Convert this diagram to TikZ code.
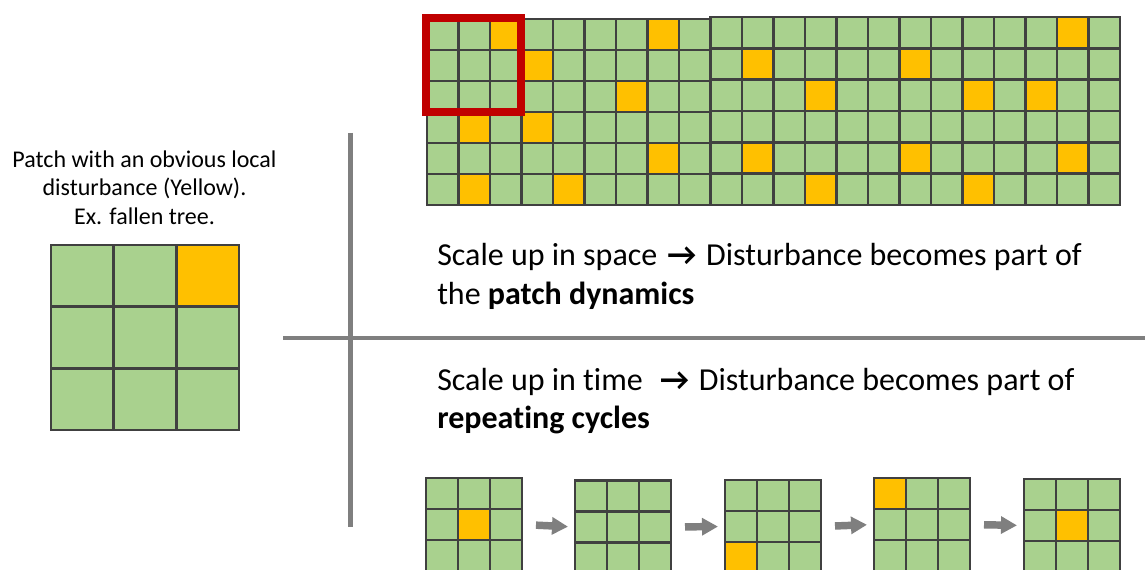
\documentclass[tikz,border=0pt]{standalone}
\usepackage{fontspec}
\setmainfont[Ligatures={NoCommon}]{Carlito}
\usetikzlibrary{arrows.meta}
\definecolor{leaf}{HTML}{A9D18E}
\definecolor{sun}{HTML}{FFC000}
\definecolor{cellline}{HTML}{404040}
\definecolor{framered}{HTML}{C00000}
\definecolor{rulegray}{HTML}{7F7F7F}
\newcommand\ycell[2]{\fill[sun] (#1,#2) rectangle ++(1,1);}
% #1 name, #2 x0, #3 y0, #4 cols, #5 rows, #6 cell w, #7 cell h, #8 yellow cells
\newcommand\cellgrid[8]{%
  \begin{scope}[shift={(#2,#3)},x={(#6,0)},y={(0,#7)}]
    \fill[leaf] (0,0) rectangle (#4,#5);
    #8
    \foreach \i in {0,...,#4} \draw[gridline] (\i,0) -- (\i,#5);
    \foreach \j in {0,...,#5} \draw[gridline] (0,\j) -- (#4,\j);
    \draw[gridline] (0,0) rectangle (#4,#5);
    \node[patchbox, anchor=north west, minimum width={#4*#6*0.75pt}, minimum height={#5*#7*0.75pt}] (#1) at (0,0) {};
  \end{scope}}
\newcommand\thinarrow{\hspace{2pt}\textbf{→}\hspace{2pt}}
\begin{document}
\begin{tikzpicture}[x=0.75pt,y=-0.75pt,
  gridline/.style={draw=cellline, line width=2pt, line cap=rect},
  patchbox/.style={rectangle, inner sep=0pt, outer sep=0pt},
  zoomframe/.style={draw=framered, line width=6pt},
  divider/.style={draw=rulegray, line width=3.4pt},
  flow/.style={draw=rulegray, line width=5.6pt, -{Triangle[length=12pt,width=12.5pt]}, shorten <=10.5pt, shorten >=5.25pt},
  smalltext/.style={font=\fontsize{18}{21.75}\selectfont, inner sep=0pt, align=center},
  bigtext/.style={font=\fontsize{24}{28.5}\selectfont, inner sep=0pt, align=left}]
\useasboundingbox (0,0) rectangle (1145,570);
\fill[white] (0,0) rectangle (1145,570);

% left patch
\cellgrid{patch}{51}{245}{3}{3}{62.67}{61.67}{\ycell{2}{0}}
\node[smalltext, anchor=base] (caption) at (144.5,225) {Patch with an obvious local\\disturbance (Yellow).\\Ex. fallen tree.};

% dividers
\coordinate (vtop) at (350.7,133);
\coordinate (vbot) at (350.7,527);
\coordinate (hleft) at (283,338);
\coordinate (hright) at (1145,338);
\draw[divider] (vtop) -- (vbot);
\draw[divider] (hleft) -- (hright);

% large field (space)
\cellgrid{fieldA}{427}{19}{9}{6}{31.5}{31}{\foreach \c/\r in {2/0,7/0,3/1,6/2,1/3,3/3,7/4,1/5,4/5}{\ycell{\c}{\r}}}
\cellgrid{fieldB}{710.5}{17}{13}{6}{31.5}{31.33}{\foreach \c/\r in {11/0,1/1,6/1,3/2,8/2,10/2,1/4,6/4,11/4,3/5,8/5}{\ycell{\c}{\r}}}
\node[zoomframe, patchbox, minimum width=71.6pt, minimum height=70.5pt] (focus) at (473.7,65) {};

\node[bigtext, anchor=base west] (space) at (437,304) {Scale up in space \thinarrow{} Disturbance becomes part of\\the \textbf{patch dynamics}};
\node[bigtext, anchor=base west] (time) at (437,428) {Scale up in time\ \ \thinarrow{} Disturbance becomes part of\\\textbf{repeating cycles}};

% time sequence
\cellgrid{t1}{426}{478}{3}{3}{32}{31}{\ycell{1}{1}}
\cellgrid{t2}{575}{480.5}{3}{3}{32}{31}{}
\cellgrid{t3}{725}{480}{3}{3}{32}{31}{\ycell{0}{2}}
\cellgrid{t4}{874}{478}{3}{3}{32}{31}{\ycell{0}{0}}
\cellgrid{t5}{1024}{479}{3}{3}{32}{31}{\ycell{1}{1}}
\draw[flow] (t1.east) -- (t2.west);
\draw[flow] (t2.east) -- (t3.west);
\draw[flow] (t3.east) -- (t4.west);
\draw[flow] (t4.east) -- (t5.west);
\end{tikzpicture}
\end{document}
